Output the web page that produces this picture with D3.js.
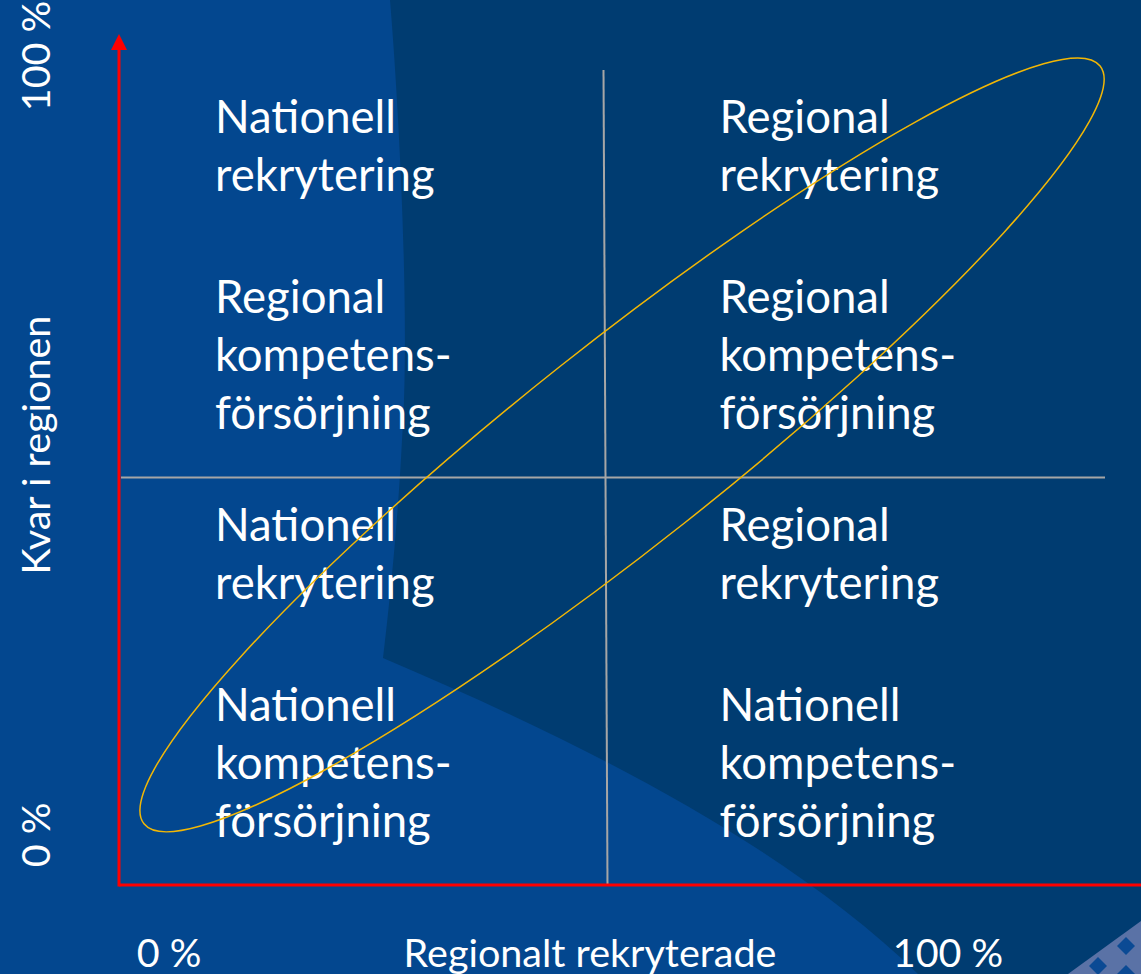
<!DOCTYPE html>
<html>
<head>
<meta charset="utf-8">
<script src="https://cdn.jsdelivr.net/npm/d3@7"></script>
<style>
  html, body { margin: 0; padding: 0; background: #03478f; overflow: hidden; }
  svg { display: block; }
  text { font-family: Lato, "Open Sans", sans-serif; fill: #fff; }
</style>
</head>
<body>
<svg id="chart" width="1141" height="974"></svg>
<script>
// Matrix data
const columns   = ["low", "high"];      // Regionalt rekryterade
const rows      = ["high", "low"];      // Kvar i regionen (top first)
const quadrants = [
  { col: "low",  row: "high", blocks: [["Nationell", "rekrytering"], ["Regional", "kompetens-", "försörjning"]] },
  { col: "high", row: "high", blocks: [["Regional", "rekrytering"], ["Regional", "kompetens-", "försörjning"]] },
  { col: "low",  row: "low",  blocks: [["Nationell", "rekrytering"], ["Nationell", "kompetens-", "försörjning"]] },
  { col: "high", row: "low",  blocks: [["Regional", "rekrytering"], ["Nationell", "kompetens-", "försörjning"]] }
];
const xTickLabels = ["0 %", "100 %"];
const yTickLabels = ["0 %", "100 %"];
const xTitle = "Regionalt rekryterade";
const yTitle = "Kvar i regionen";
const splitValue = 50;
// correlation ellipse, in axis units: centre, half axes
const ellipseCentre = [51.7, 54.0];
const ellipseAxes   = [610, 100];  // px along / across the diagonal
const ellipseAngle  = 38.4;

const W = 1141, H = 974;
const svg = d3.select("#chart");

const x = d3.scaleLinear().domain([0, 100]).range([119, 1092]);
const y = d3.scaleLinear().domain([0, 100]).range([885, 70]);

// background: light blue with darker swoosh on the right
svg.append("rect").attr("width", W).attr("height", H).attr("fill", "#03478f");
svg.append("path")
  .attr("d", "M390,0 C400,120 410,330 402,440 C398,520 390,600 383,658 " +
             "C600,750 790,850 918,974 L1141,974 L1141,0 Z")
  .attr("fill", "#003c71");
// small pattern in the lower right corner
svg.append("path").attr("d", "M1068,974 L1141,921 L1141,974 Z").attr("fill", "#5a72a6");
svg.selectAll("path.dia")
  .data([[1098, 966], [1126, 946], [1126, 974]])
  .enter().append("path")
  .attr("class", "dia")
  .attr("d", d => `M${d[0]},${d[1]-9} L${d[0]+9},${d[1]} L${d[0]},${d[1]+9} L${d[0]-9},${d[1]} Z`)
  .attr("fill", "#0b4a94");

// split lines
svg.append("line")
  .attr("x1", x(0) + 2).attr("x2", x(100) + 13)
  .attr("y1", y(splitValue)).attr("y2", y(splitValue))
  .attr("stroke", "#a6a6a6").attr("stroke-width", 2);
svg.append("line")
  .attr("x1", x(splitValue) - 2).attr("x2", x(splitValue) + 2)
  .attr("y1", y(100)).attr("y2", y(0))
  .attr("stroke", "#a6a6a6").attr("stroke-width", 2);

// quadrant labels
const colInset = { low: 96, high: 114 };
const blockOffset = [63, 243];
const lineH = 58;
const qy = d3.scaleBand().domain(rows).range([y(100), y(0)]);
const qx = d3.scaleBand().domain(columns).range([x(0), x(100)]);

quadrants.forEach(q => {
  q.blocks.forEach((lines, bi) => {
    const t = svg.append("text")
      .attr("x", qx(q.col) + colInset[q.col])
      .attr("y", qy(q.row) + blockOffset[bi])
      .style("font-size", "45.5px");
    t.selectAll("tspan").data(lines).enter().append("tspan")
      .attr("x", qx(q.col) + colInset[q.col])
      .attr("dy", (d, i) => i === 0 ? 0 : lineH)
      .text(d => d);
  });
});

// ellipse
svg.append("ellipse")
  .attr("cx", 0).attr("cy", 0)
  .attr("rx", ellipseAxes[0]).attr("ry", ellipseAxes[1])
  .attr("transform", `translate(${x(ellipseCentre[0])},${y(ellipseCentre[1])}) rotate(${-ellipseAngle})`)
  .attr("fill", "none")
  .attr("stroke", "#f2b705")
  .attr("stroke-width", 1.5);

// red axes
svg.append("line")
  .attr("x1", x(0)).attr("x2", W)
  .attr("y1", y(0)).attr("y2", y(0))
  .attr("stroke", "#ff0000").attr("stroke-width", 3);
svg.append("line")
  .attr("x1", x(0)).attr("x2", x(0))
  .attr("y1", y(0) + 1.5).attr("y2", y(100) - 24)
  .attr("stroke", "#ff0000").attr("stroke-width", 3);
svg.append("path")
  .attr("d", `M${x(0)},${y(100) - 36} L${x(0) + 8},${y(100) - 20} L${x(0) - 8},${y(100) - 20} Z`)
  .attr("fill", "#ff0000");

// axis texts
const lx = d3.scaleLinear().domain([0, 100]).range([169, 948]);
svg.selectAll("text.xtick")
  .data(xTickLabels).enter().append("text")
  .attr("class", "xtick")
  .attr("x", (d, i) => lx(i * 100)).attr("y", 967)
  .attr("text-anchor", "middle")
  .style("font-size", "39.5px")
  .text(d => d);
svg.append("text")
  .attr("x", 590).attr("y", 967)
  .attr("text-anchor", "middle")
  .style("font-size", "39.5px")
  .text(xTitle);

const ly = d3.scaleLinear().domain([0, 100]).range([835, 56]);
svg.selectAll("text.ytick")
  .data(yTickLabels).enter().append("text")
  .attr("class", "ytick")
  .attr("transform", (d, i) => `translate(50,${ly(i * 100)}) rotate(-90)`)
  .attr("text-anchor", "middle")
  .style("font-size", "39.5px")
  .text(d => d);
svg.append("text")
  .attr("transform", "translate(50,445) rotate(-90)")
  .attr("text-anchor", "middle")
  .style("font-size", "39.5px")
  .text(yTitle);
</script>
</body>
</html>
